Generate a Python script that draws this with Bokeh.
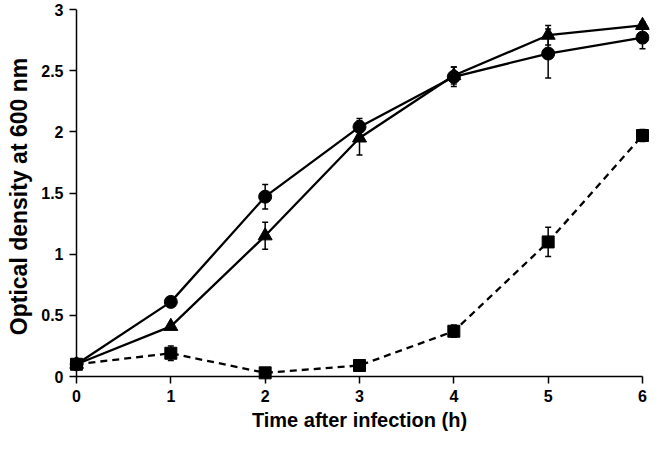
from bokeh.plotting import figure
from bokeh.models import ColumnDataSource, Whisker, TeeHead, FixedTicker, Range1d
from bokeh.embed import file_html
from bokeh.resources import INLINE

# ---- data ----
time_h = [0, 1, 2, 3, 4, 5, 6]
circle_od = [0.10, 0.61, 1.47, 2.04, 2.45, 2.64, 2.77]
circle_err = [0.02, 0.02, 0.10, 0.07, 0.08, 0.20, 0.09]
triangle_od = [0.10, 0.41, 1.15, 1.95, 2.46, 2.79, 2.87]
triangle_err = [0.02, 0.02, 0.11, 0.14, 0.07, 0.08, 0.03]
square_od = [0.10, 0.19, 0.03, 0.09, 0.37, 1.10, 1.97]
square_err = [0.02, 0.06, 0.01, 0.02, 0.05, 0.12, 0.05]
x_ticks = [0, 1, 2, 3, 4, 5, 6]
y_ticks = [0, 0.5, 1, 1.5, 2, 2.5, 3]
y_tick_labels = ["0", "0.5", "1", "1.5", "2", "2.5", "3"]
x_label = "Time after infection (h)"
y_label = "Optical density at 600 nm"

FONT = "Liberation Sans"

# layout constants (pixels)
UX = 94.3      # px per hour
UY = 122.3     # px per OD unit
PAD = 7        # gap between frame edge and axis line (= tick length)

x0, x1 = x_ticks[0], x_ticks[-1]
y0, y1 = y_ticks[0], y_ticks[-1]
FW = int(round(UX * (x1 - x0) + 2 * PAD))
FH = int(round(UY * (y1 - y0) + PAD))

p = figure(output_backend="svg", toolbar_location=None,
           frame_width=FW, frame_height=FH,
           x_range=Range1d(x0 - PAD * (x1 - x0) / (FW - 2 * PAD), x1 + PAD * (x1 - x0) / (FW - 2 * PAD)),
           y_range=Range1d(y0 - PAD * (y1 - y0) / (FH - PAD), y1),
           min_border_left=69, min_border_right=1, min_border_top=9, min_border_bottom=51)
p.outline_line_color = None
p.xgrid.visible = False
p.ygrid.visible = False
p.background_fill_color = "white"
p.border_fill_color = "white"

# axis lines at data zero
p.segment(x0=[x0], y0=[y0], x1=[x1], y1=[y0], line_color="black", line_width=1.5)
p.segment(x0=[x0], y0=[y0], x1=[x0], y1=[y1], line_color="black", line_width=1.5)

def src(y, e):
    return ColumnDataSource(dict(x=time_h, y=y,
                                 lo=[a - b for a, b in zip(y, e)],
                                 hi=[a + b for a, b in zip(y, e)]))

s_c = src(circle_od, circle_err)
s_t = src(triangle_od, triangle_err)
s_s = src(square_od, square_err)

for s in (s_c, s_t, s_s):
    w = Whisker(source=s, base="x", lower="lo", upper="hi",
                line_color="black", line_width=1.5,
                upper_head=TeeHead(size=6, line_color="black", line_width=1.5),
                lower_head=TeeHead(size=6, line_color="black", line_width=1.5))
    p.add_layout(w)

p.line("x", "y", source=s_c, line_color="black", line_width=2.3)
p.line("x", "y", source=s_t, line_color="black", line_width=2.3)
p.line("x", "y", source=s_s, line_color="black", line_width=2.3, line_dash="7 5")

p.scatter("x", "y", source=s_c, marker="circle", size=13, fill_color="black", line_color="black")
p.scatter("x", "y", source=s_t, marker="triangle", size=14, fill_color="black", line_color="black")
p.scatter("x", "y", source=s_s, marker="square", size=12, fill_color="black", line_color="black")

for ax in (p.xaxis[0], p.yaxis[0]):
    ax.axis_line_color = None
    ax.major_tick_line_color = "black"
    ax.major_tick_line_width = 1.5
    ax.major_tick_out = 0
    ax.major_tick_in = PAD
    ax.minor_tick_line_color = None
    ax.major_label_text_font = FONT
    ax.major_label_text_font_style = "bold"
    ax.major_label_text_font_size = "16px"
    ax.major_label_text_color = "black"
    ax.axis_label_text_font = FONT
    ax.axis_label_text_font_style = "bold"
    ax.axis_label_text_color = "black"

p.xaxis.axis_label_text_font_size = "20px"
p.yaxis.axis_label_text_font_size = "23px"

p.xaxis.ticker = FixedTicker(ticks=x_ticks)
p.yaxis.ticker = FixedTicker(ticks=y_ticks)
p.yaxis.major_label_overrides = {t: l for t, l in zip(y_ticks, y_tick_labels)}
p.xaxis.axis_label = x_label
p.yaxis.axis_label = y_label
p.xaxis.major_label_standoff = 6
p.yaxis.major_label_standoff = 6
p.xaxis.axis_label_standoff = 4
p.yaxis.axis_label_standoff = 6

open("out.html", "w").write(file_html(p, INLINE))
